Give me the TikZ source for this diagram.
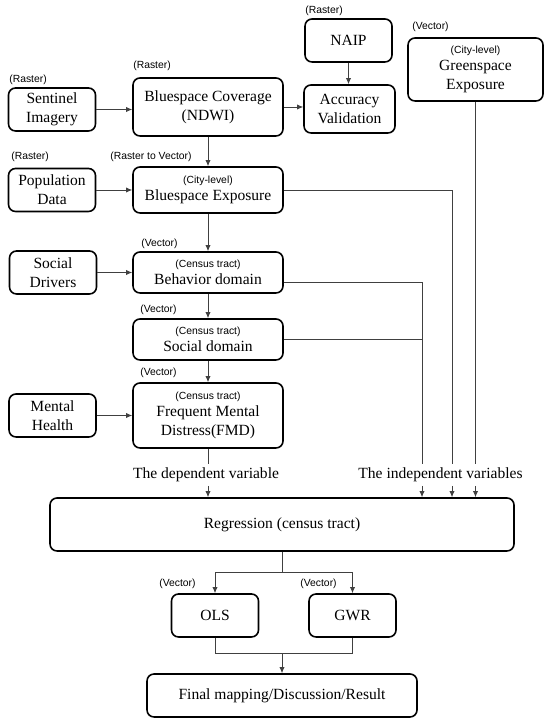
\documentclass[tikz,border=0pt]{standalone}
\usepackage{fontspec}
\setmainfont{Liberation Serif}
\setsansfont{Liberation Sans}
\usetikzlibrary{arrows.meta}
\newcommand{\hdr}[1]{{\sffamily\fontsize{5.9}{7}\selectfont #1}}
\begin{document}
\begin{tikzpicture}[
box/.style={draw, line width=0.9pt, rounded corners=4pt, align=center, inner sep=1pt, font=\fontsize{8.85}{10.6}\selectfont},
small/.style={box, minimum width=1.74cm, minimum height=0.86cm},
wide/.style={box, minimum width=3cm},
tag/.style={anchor=west, inner sep=0pt, font=\sffamily\fontsize{5.9}{7}\selectfont},
lbl/.style={inner sep=2pt, font=\fontsize{8.85}{10.6}\selectfont},
line/.style={line width=0.45pt, black!75},
arrow/.style={line, -{Latex[length=3.5pt,width=3pt]}}
]
\useasboundingbox (0,0) rectangle (11,14.5);
% inputs and blue space
\node[small] (sentinel) at (1.04,12.31) {Sentinel\\Imagery};
\node[wide, minimum height=1.16cm] (coverage) at (4.16,12.36) {Bluespace Coverage\\(NDWI)};
\node[small] (naip) at (6.97,13.69) {NAIP};
\node[box, minimum width=1.82cm, minimum height=0.96cm] (accuracy) at (6.99,12.32) {Accuracy\\Validation};
\node[box, minimum width=2.70cm, minimum height=1.26cm] (green) at (9.51,13.11) {\hdr{(City-level)}\\[-1pt]Greenspace\\Exposure};
\node[small] (population) at (1.04,10.70) {Population\\Data};
\node[wide, minimum height=0.92cm] (blueexp) at (4.16,10.70) {\hdr{(City-level)}\\[-1pt]Bluespace Exposure};
% census tract
\node[small] (drivers) at (1.06,9.05) {Social\\Drivers};
\node[wide, minimum height=0.82cm] (behavior) at (4.16,9.05) {\hdr{(Census tract)}\\[-1pt]Behavior domain};
\node[wide, minimum height=0.82cm] (social) at (4.16,7.71) {\hdr{(Census tract)}\\[-1pt]Social domain};
\node[small] (mental) at (1.05,6.19) {Mental\\Health};
\node[wide, minimum height=1.30cm] (fmd) at (4.16,6.19) {\hdr{(Census tract)}\\[-1pt]Frequent Mental\\Distress(FMD)};
% data type tags
\node[tag] (senttag) at (0.18,12.90) {(Raster)};
\node[tag] (covtag) at (2.66,13.18) {(Raster)};
\node[tag] (naiptag) at (6.10,14.28) {(Raster)};
\node[tag] (greentag) at (8.24,13.96) {(Vector)};
\node[tag] (poptag) at (0.22,11.36) {(Raster)};
\node[tag] (bexptag) at (2.20,11.36) {(Raster to Vector)};
\node[tag] (behtag) at (2.82,9.62) {(Vector)};
\node[tag] (soctag) at (2.80,8.30) {(Vector)};
\node[tag] (fmdtag) at (2.80,7.04) {(Vector)};
% regression
\node[lbl] (dep) at (4.12,5.0) {The dependent variable};
\node[lbl] (indep) at (8.81,5.0) {The independent variables};
\node[box, minimum width=9.28cm, minimum height=1.06cm] (reg) at (5.64,4.01) {Regression (census tract)};
\node[small] (ols) at (4.30,2.19) {OLS};
\node[small] (gwr) at (7.05,2.19) {GWR};
\node[tag] (olstag) at (3.18,2.82) {(Vector)};
\node[tag] (gwrtag) at (6.00,2.82) {(Vector)};
\node[box, minimum width=5.40cm, minimum height=0.86cm] (final) at (5.64,0.59) {Final mapping/Discussion/Result};
% connectors
\draw[arrow] (sentinel.east) -- (sentinel.east -| coverage.west);
\draw[arrow] (coverage.east) -- (coverage.east -| accuracy.west);
\draw[arrow] (naip.south) -- (naip.south |- accuracy.north);
\draw[arrow] (coverage) -- (blueexp);
\draw[arrow] (population) -- (blueexp);
\draw[arrow] (blueexp) -- (behavior);
\draw[arrow] (drivers) -- (behavior);
\draw[arrow] (behavior) -- (social);
\draw[arrow] (social) -- (fmd);
\draw[arrow] (mental) -- (fmd);
\coordinate (v1) at (8.44,5.0);
\coordinate (v2) at (9.04,5.0);
\draw[line] ([yshift=-0.19cm]behavior.east) -| (v1 |- indep.north);
\draw[line] (social.east) -- (social.east -| v1);
\draw[line] (blueexp.east) -| (v2 |- indep.north);
\draw[line] (green.south) -- (green.south |- indep.north);
\draw[line] (fmd.south) -- (fmd.south |- dep.north);
\draw[arrow] (fmd.south |- dep.south) -- (fmd.south |- reg.north);
\draw[arrow] (v1 |- indep.south) -- (v1 |- reg.north);
\draw[arrow] (v2 |- indep.south) -- (v2 |- reg.north);
\draw[arrow] (green.south |- indep.south) -- (green.south |- reg.north);
\draw[line] (reg.south) -- ++(0,-0.42) coordinate (split);
\draw[arrow] (split) -| (ols.north);
\draw[arrow] (split) -| (gwr.north);
\draw[line] (ols.south) -- ++(0,-0.32) coordinate (m1) -| (gwr.south);
\draw[arrow] (m1 -| final.north) -- (final.north);
\end{tikzpicture}
\end{document}
